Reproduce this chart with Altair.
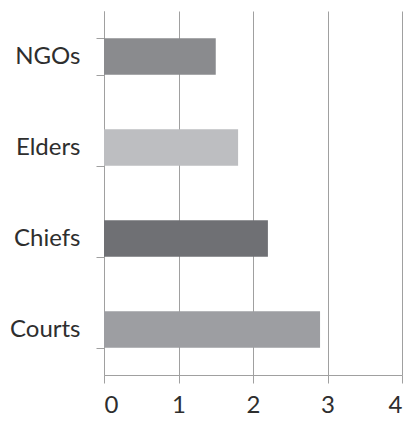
import altair as alt
import pandas as pd

categories = ["NGOs", "Elders", "Chiefs", "Courts"]
values = [1.5, 1.8, 2.2, 2.9]
colors = ["#8a8b8e", "#bdbec1", "#6f7074", "#9d9ea2"]
x_ticks = [0, 1, 2, 3, 4]

df = pd.DataFrame({"cat": categories, "val": values, "col": colors})

AX = "#a0a0a0"
TXT = "#2e2e2e"
FONT = "Lato"

chart = alt.Chart(df).mark_bar().encode(
    x=alt.X("val:Q",
            scale=alt.Scale(domain=[0, 4], nice=False, zero=True),
            axis=alt.Axis(values=x_ticks, title=None, grid=True, gridColor=AX,
                          gridWidth=1, domainColor=AX, tickColor=AX, tickSize=8,
                          labelFont=FONT, labelFontSize=24, labelColor=TXT,
                          labelPadding=10, format="d")),
    y=alt.Y("cat:N", sort=categories,
            scale=alt.Scale(paddingInner=0.6, paddingOuter=0.3),
            axis=alt.Axis(title=None, grid=False, domainColor=AX, tickColor=AX,
                          tickSize=8, tickBand="extent", labelFont=FONT,
                          labelFontSize=24, labelColor=TXT, labelPadding=16)),
    color=alt.Color("col:N", scale=None, legend=None),
).properties(
    width=298, height=364,
    autosize=alt.AutoSizeParams(type="none"),
    padding={"left": 96, "top": 3, "right": 1, "bottom": 43},
).configure_view(stroke=None).configure_axis(domainWidth=1, tickWidth=1)

chart.save("out.html", embed_options={"renderer": "svg", "actions": False})
